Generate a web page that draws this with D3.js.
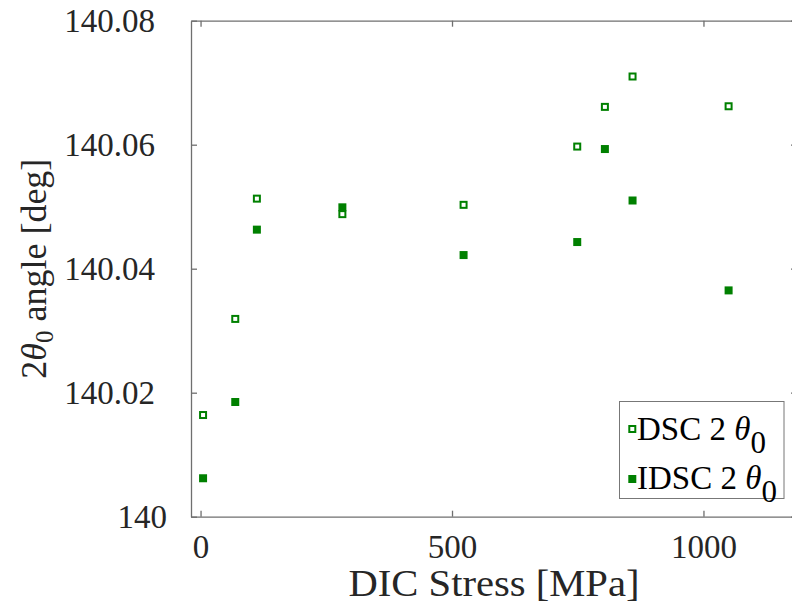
<!DOCTYPE html>
<html>
<head>
<meta charset="utf-8">
<script src="https://cdn.jsdelivr.net/npm/d3@7"></script>
<style>
  html, body { margin: 0; padding: 0; background: #fff; }
  svg { display: block; }
</style>
</head>
<body>
<svg id="chart" width="792" height="612"></svg>
<script>
// ---- data ----
const stress = [5, 69, 112, 282, 523, 749, 804, 859, 1050];
const dscTheta = [140.0164, 140.0319, 140.0513, 140.0488, 140.0503, 140.0597, 140.0661, 140.0710, 140.0662];
const idscTheta = [140.0062, 140.0185, 140.0463, 140.0499, 140.0422, 140.0443, 140.0593, 140.0510, 140.0365];
const seriesNames = ["DSC 2 ", "IDSC 2 "];
const xTicks = [0, 500, 1000];
const xTickLabels = ["0", "500", "1000"];
const yTicks = [140, 140.02, 140.04, 140.06, 140.08];
const yTickLabels = ["140", "140.02", "140.04", "140.06", "140.08"];
const xLabel = "DIC Stress [MPa]";

(function () {
// ---- layout ----
const svg = d3.select("#chart");
const pL = 191, pR = 797, pT = 20.7, pB = 516.7;
const green = "#008000";
const axisColor = "#6f6f6f";
const textColor = "#262626";
const serif = "'Liberation Serif', 'Times New Roman', serif";

const x = d3.scaleLinear().domain([-19, 1186]).range([pL, pR]);
const y = d3.scaleLinear().domain([140, 140.08]).range([pB, pT]);

function styleAxis(g) {
  g.selectAll("path.domain").attr("stroke", axisColor).attr("stroke-width", 1.3);
  g.selectAll(".tick line").attr("stroke", axisColor).attr("stroke-width", 1.3);
  g.selectAll(".tick text").attr("fill", textColor)
    .style("font-family", serif).style("font-size", "33px");
}

// bottom axis
const xAxis = d3.axisBottom(x).tickValues(xTicks)
  .tickFormat((d, i) => xTickLabels[i]).tickSize(-6).tickSizeOuter(0).tickPadding(18);
svg.append("g").attr("transform", `translate(0,${pB})`).call(xAxis).call(styleAxis);

// top axis (no labels)
svg.append("g").attr("transform", `translate(0,${pT})`)
  .call(d3.axisTop(x).tickValues(xTicks).tickFormat("").tickSize(-6).tickSizeOuter(0))
  .call(styleAxis);

// left axis
const yAxis = d3.axisLeft(y).tickValues(yTicks)
  .tickFormat((d, i) => yTickLabels[i]).tickSize(-6).tickSizeOuter(0).tickPadding(36);
const gy = svg.append("g").attr("transform", `translate(${pL},0)`).call(yAxis).call(styleAxis);
gy.selectAll(".tick text").attr("dx", (d, i) => yTickLabels[i].indexOf(".") < 0 ? 12 : 0);

// right axis (mostly off-canvas)
svg.append("g").attr("transform", `translate(${pR},0)`)
  .call(d3.axisRight(y).tickValues(yTicks).tickFormat("").tickSize(-6).tickSizeOuter(0))
  .call(styleAxis);

// axis labels
svg.append("text")
  .attr("x", (pL + pR) / 2).attr("y", 596)
  .attr("text-anchor", "middle")
  .attr("textLength", 291).attr("lengthAdjust", "spacingAndGlyphs")
  .attr("fill", textColor)
  .style("font-family", serif).style("font-size", "37px")
  .text(xLabel);

const yl = svg.append("text")
  .attr("transform", `translate(46,${(pT + pB) / 2}) rotate(-90)`)
  .attr("text-anchor", "middle")
  .attr("fill", textColor)
  .style("font-family", serif).style("font-size", "36px");
yl.append("tspan").text("2");
yl.append("tspan").style("font-style", "italic").text("θ");
yl.append("tspan").attr("dy", 7).style("font-size", "25px").text("0");
yl.append("tspan").attr("dy", -7).text(" angle [deg]");

// markers
const ms = 8;
const idscData = stress.map((s, i) => ({ s, v: idscTheta[i] }));
const dscData = stress.map((s, i) => ({ s, v: dscTheta[i] }));

svg.append("g").selectAll("rect").data(idscData).join("rect")
  .attr("x", d => x(d.s) - ms / 2).attr("y", d => y(d.v) - ms / 2)
  .attr("width", ms).attr("height", ms).attr("fill", green);

svg.append("g").selectAll("rect").data(dscData).join("rect")
  .attr("x", d => x(d.s) - (ms - 2) / 2).attr("y", d => y(d.v) - (ms - 2) / 2)
  .attr("width", ms - 2).attr("height", ms - 2)
  .attr("fill", "#fff").attr("stroke", green).attr("stroke-width", 2);

// legend
const lg = svg.append("g");
lg.append("rect").attr("x", 619.5).attr("y", 401.5).attr("width", 164.5).attr("height", 97)
  .attr("fill", "#fff").attr("stroke", "#777").attr("stroke-width", 1);

const rows = [{ name: seriesNames[0], cy: 429, base: 440, open: true },
              { name: seriesNames[1], cy: 479, base: 489, open: false }];
rows.forEach(r => {
  if (r.open) {
    lg.append("rect").attr("x", 632.3 - 3).attr("y", r.cy - 3).attr("width", 6).attr("height", 6)
      .attr("fill", "#fff").attr("stroke", green).attr("stroke-width", 2);
  } else {
    lg.append("rect").attr("x", 632.3 - 4).attr("y", r.cy - 4).attr("width", 8).attr("height", 8)
      .attr("fill", green);
  }
  const t = lg.append("text").attr("x", 637).attr("y", r.base)
    .attr("fill", "#000").style("font-family", serif).style("font-size", "33px")
    .style("white-space", "pre");
  t.append("tspan").text(r.name);
  t.append("tspan").style("font-style", "italic").text("θ");
  t.append("tspan").attr("dy", 13).style("font-size", "31px").text("0");
});
})();
</script>
</body>
</html>
